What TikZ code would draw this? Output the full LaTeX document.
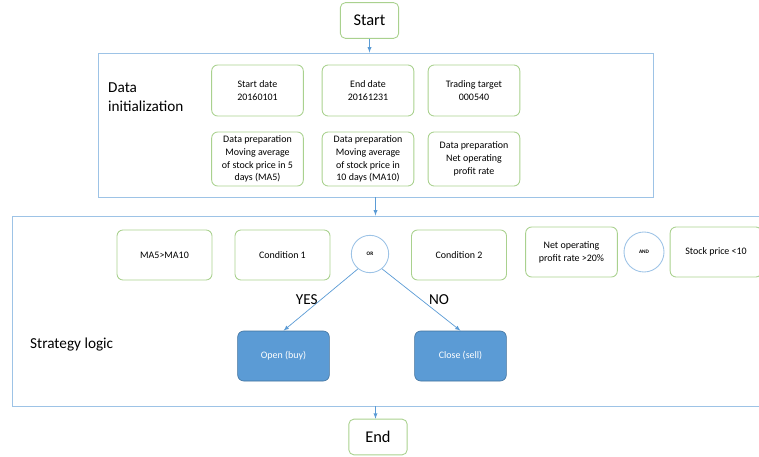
\documentclass[tikz,border=0pt]{standalone}
\usepackage{fontspec}
\setmainfont{Carlito}
\usepackage{xcolor}
\usetikzlibrary{shapes, calc, arrows, positioning}
\definecolor{boxgreen}{HTML}{A9D18E}
\definecolor{frameblue}{HTML}{9DC3E6}
\definecolor{linkblue}{HTML}{5B9BD5}
\definecolor{deepblue}{HTML}{41719C}
\tikzset{
        block/.style = {draw=boxgreen, rectangle, rounded corners=0.18cm,
            line width=0.75pt, align=center, inner sep=1pt,
            font=\fontsize{8.5}{11}\selectfont,
            minimum height=1.53cm,
            minimum width=2.75cm},
        term/.style = {draw=boxgreen, rectangle, rounded corners=0.15cm,
            line width=0.75pt,
            font=\fontsize{14}{16}\selectfont,
            minimum height=1.07cm,
            minimum width=1.75cm},
        frame/.style = {draw=frameblue, rectangle, line width=0.75pt, inner sep=0pt},
        action/.style = {block, draw=deepblue, fill=linkblue, text=white, line width=0.5pt},
        gate/.style = {draw=frameblue, circle, line width=0.75pt,
            minimum size=1.12cm, inner sep=0pt,
            font=\fontsize{4.5}{5}\selectfont\bfseries},
        title/.style = {align=left, anchor=west, inner sep=0pt,
            font=\fontsize{13}{16}\selectfont},
        arrow/.style = {draw=linkblue, -latex, line width=0.6pt},
}

\begin{document}
\begin{tikzpicture}[auto, x=0.03cm, y=-0.03cm]
\clip (0,0) rectangle (759,457);
\node [term] (start) at (369.5,20.5) {Start};
\node [frame, minimum width=16.65cm, minimum height=4.32cm] (datafr) at (375.5,125) {};
\node [title] (datalab) at (108,97) {Data\\initialization};
\node [block] (sdate) at (257.5,90.5) {Start date\\20160101};
\node [block] (edate) at (368,90.5) {End date\\20161231};
\node [block] (target) at (474,90.5) {Trading target\\000540};
\node [block, minimum height=1.62cm] (prepa) at (257.5,159) {Data preparation\\Moving average\\of stock price in 5\\days (MA5)};
\node [block, minimum height=1.62cm] (prepb) at (368,159) {Data preparation\\Moving average\\of stock price in\\10 days (MA10)};
\node [block, minimum height=1.62cm] (prepc) at (474,159) {Data preparation\\Net operating\\profit rate};
\node [frame, minimum width=22.74cm, minimum height=5.7cm] (strat) at (391,311) {};
\node [title] (stratlab) at (30,345) {Strategy logic};
\node [block, minimum width=2.85cm, minimum height=1.5cm] (cross) at (164.5,255) {MA5>MA10};
\node [block, minimum width=2.85cm, minimum height=1.5cm] (cond1) at (282.5,255) {Condition 1};
\node [gate] (orgate) at (370,254) {OR};
\node [block, minimum width=2.85cm, minimum height=1.5cm] (cond2) at (459,255) {Condition 2};
\node [block, minimum height=1.5cm] (profit) at (571.5,252) {Net operating\\profit rate >20\%};
\node [gate, minimum size=1.2cm] (andgate) at (644,252) {AND};
\node [block, minimum height=1.5cm] (price) at (716,252) {Stock price <10};
\node [action, minimum height=1.5cm] (open) at (283.5,356) {Open (buy)};
\node [action, minimum height=1.5cm] (close) at (460.5,356) {Close (sell)};
\node [term] (end) at (378,437) {End};
\draw [arrow] (start) -- (start |- datafr.north);
\draw [arrow] (datafr.south) -- (datafr.south |- strat.north);
\draw [arrow] (orgate.231) -- node[midway, left=-1pt, font=\fontsize{13}{15}\selectfont] {YES} (open.north);
\draw [arrow] (orgate.309) -- node[midway, right=3pt, font=\fontsize{13}{15}\selectfont] {NO} (close.north);
\draw [arrow] (datafr.south |- strat.south) -- (datafr.south |- end.north);
\end{tikzpicture}
\end{document}
